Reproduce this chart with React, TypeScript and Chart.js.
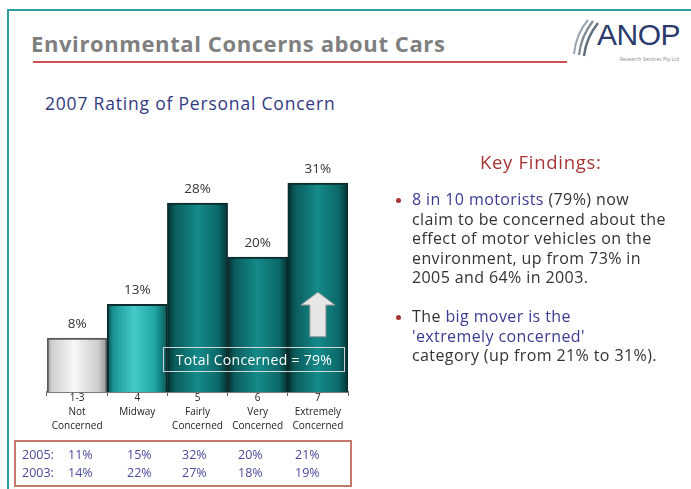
import React, { useEffect, useRef } from "react";
import { Chart, registerables } from "chart.js";

Chart.register(...registerables);

const categories: string[][] = [
  ["1-3", "Not", "Concerned"],
  ["4", "Midway"],
  ["5", "Fairly", "Concerned"],
  ["6", "Very", "Concerned"],
  ["7", "Extremely", "Concerned"],
];
const values2007 = [8, 13, 28, 20, 31];
const values2005 = [11, 15, 32, 20, 21];
const values2003 = [14, 22, 27, 18, 19];
const yMax = 35;

const FONT = "'Open Sans', 'DejaVu Sans', sans-serif";

const gradStops: Array<Array<[number, string]>> = [
  [[0, "#8e8e8e"], [0.08, "#cfcfcf"], [0.45, "#f8f8f8"], [0.85, "#cdcdcd"], [1, "#939393"]],
  [[0, "#0a4d4d"], [0.1, "#1a9494"], [0.45, "#45caca"], [0.8, "#1fa3a3"], [1, "#0a5555"]],
  [[0, "#042e2e"], [0.12, "#0a5c5c"], [0.5, "#158a8a"], [0.85, "#0c6868"], [1, "#043232"]],
];

const valueLabelPlugin = {
  id: "valueLabels",
  afterDatasetsDraw(chart: any) {
    const ctx = chart.ctx;
    const meta = chart.getDatasetMeta(0);
    ctx.save();
    ctx.font = `13.5px ${FONT}`;
    ctx.fillStyle = "#333333";
    ctx.textAlign = "center";
    ctx.textBaseline = "middle";
    meta.data.forEach((bar: any, i: number) => {
      ctx.fillText(`${values2007[i]}%`, bar.x, bar.y - 14);
    });
    // arrow in last bar
    const last = meta.data[meta.data.length - 1];
    const ys = chart.scales.y;
    const cx = last.x;
    const top = ys.getPixelForValue(14.8);
    const headB = ys.getPixelForValue(12.9);
    const bottom = ys.getPixelForValue(8.2);
    ctx.beginPath();
    ctx.moveTo(cx, top);
    ctx.lineTo(cx + 17, headB);
    ctx.lineTo(cx + 8, headB);
    ctx.lineTo(cx + 8, bottom);
    ctx.lineTo(cx - 8, bottom);
    ctx.lineTo(cx - 8, headB);
    ctx.lineTo(cx - 17, headB);
    ctx.closePath();
    ctx.fillStyle = "#e6e6e6";
    ctx.fill();
    ctx.strokeStyle = "#9a9a9a";
    ctx.lineWidth = 1;
    ctx.stroke();
    ctx.restore();
  },
};

function ChartView() {
  const ref = useRef<HTMLCanvasElement>(null);
  useEffect(() => {
    if (!ref.current) return;
    const chart = new Chart(ref.current, {
      type: "bar",
      data: {
        labels: categories,
        datasets: [
          {
            data: values2007,
            backgroundColor: (c: any) => {
              const ch = c.chart;
              const i = c.dataIndex ?? 0;
              const stops = gradStops[Math.min(i, 2)];
              if (!ch.chartArea) return stops[2][1];
              const xs = ch.scales.x;
              const cx = xs.getPixelForValue(i);
              const half = xs.width / (2 * values2007.length);
              const g = ch.ctx.createLinearGradient(cx - half, 0, cx + half, 0);
              stops.forEach(([o, col]) => g.addColorStop(o, col));
              return g;
            },
            borderColor: (c: any) => ((c.dataIndex ?? 0) === 0 ? "#5a5a5a" : "#0a2c2c"),
            borderWidth: 2,
            borderSkipped: "start",
            categoryPercentage: 1,
            barPercentage: 1,
          },
        ],
      },
      options: {
        responsive: false,
        animation: false,
        events: [],
        layout: { padding: { left: 47, right: 343, top: 156, bottom: 47 } },
        plugins: { legend: { display: false }, tooltip: { enabled: false } },
        scales: {
          y: { display: false, min: 0, max: yMax },
          x: {
            afterFit: (s: any) => {
              s.height = 50;
            },
            grid: {
              display: true,
              drawOnChartArea: false,
              drawTicks: true,
              tickLength: 4,
              color: "#666666",
              offset: true,
            },
            border: { display: true, color: "#7a7a7a", width: 2 },
            ticks: {
              padding: -5,
              maxRotation: 0,
              autoSkip: false,
              color: "#222222",
              font: { family: FONT, size: 10, lineHeight: 1.4 },
            },
          },
        },
      },
      plugins: [valueLabelPlugin],
    } as any);
    return () => chart.destroy();
  }, []);
  return (
    <canvas
      ref={ref}
      width={691}
      height={489}
      style={{ position: "absolute", left: 0, top: 0, width: 691, height: 489 }}
    />
  );
}

const tableCols = [68, 127, 182, 238, 295];

export default function App() {
  const abs = (s: React.CSSProperties): React.CSSProperties => ({ position: "absolute", ...s });
  const blue = "#3b3b92";
  const dark = "#333333";
  return (
    <div style={abs({ left: 0, top: 0, width: 691, height: 489, background: "#ffffff", overflow: "hidden", fontFamily: FONT })}>
      {/* frame */}
      <div style={abs({ left: 7, top: 9, width: 684, height: 2, background: "#2f9ca0" })} />
      <div style={abs({ left: 7, top: 9, width: 2, height: 480, background: "#2f9ca0" })} />
      {/* title */}
      <div style={abs({ left: 31, top: 29, fontSize: 22, fontWeight: 700, color: "#7f7f7f", whiteSpace: "nowrap", lineHeight: "28px", letterSpacing: 0.6 })}>
        Environmental Concerns about Cars
      </div>
      <div style={abs({ left: 33, top: 61, width: 534, height: 2, background: "#c9504e" })} />
      {/* logo */}
      <svg style={abs({ left: 562, top: 12, width: 40, height: 50 })} viewBox="0 0 40 50">
        <path d="M12 42 Q14 22 26 8" stroke="#9aa4ae" strokeWidth="2" fill="none" />
        <path d="M17 43 Q19 24 31 9" stroke="#7d8894" strokeWidth="2.2" fill="none" />
        <path d="M22 44 Q24 26 36 11" stroke="#5f6c7a" strokeWidth="2.4" fill="none" />
      </svg>
      <div style={abs({ left: 597, top: 18, fontSize: 30, color: "#2b3a6c", fontFamily: "'Liberation Sans', Arial, sans-serif", lineHeight: "34px", letterSpacing: -0.5 })}>
        ANOP
      </div>
      <div style={abs({ left: 620, top: 56, fontSize: 5, color: "#888", whiteSpace: "nowrap", lineHeight: "6px" })}>
        Research Services Pty Ltd
      </div>
      {/* subtitle */}
      <div style={abs({ left: 45, top: 92, fontSize: 17.5, color: "#333a80", whiteSpace: "nowrap", lineHeight: "22px", letterSpacing: 0.8 })}>
        2007 Rating of Personal Concern
      </div>

      <ChartView />

      {/* total concerned box */}
      <div style={abs({ left: 163, top: 347, width: 182, height: 25, boxSizing: "border-box", border: "1px solid rgba(235,235,235,0.85)", color: "#ffffff", fontSize: 14, lineHeight: "23px", textAlign: "center", whiteSpace: "nowrap", zIndex: 2, letterSpacing: 0.3 })}>
        Total Concerned = 79%
      </div>

      {/* table */}
      <div style={abs({ left: 14, top: 440, width: 338, height: 47, boxSizing: "border-box", border: "2px solid #c47a6a", zIndex: 2 })} />
      {[["2005:", values2005], ["2003:", values2003]].map(([lab, vals]: any, r: number) => (
        <React.Fragment key={r}>
          <div style={abs({ left: 22, top: 447 + r * 18, fontSize: 12.5, color: "#4a4a9c", lineHeight: "16px", zIndex: 3 })}>{lab}</div>
          {(vals as number[]).map((v, i) => (
            <div key={i} style={abs({ left: tableCols[i], top: 447 + r * 18, fontSize: 12.5, color: "#4a4a9c", lineHeight: "16px", zIndex: 3 })}>{v}%</div>
          ))}
        </React.Fragment>
      ))}

      {/* key findings */}
      <div style={abs({ left: 480, top: 150, fontSize: 18.5, color: "#a83535", whiteSpace: "nowrap", lineHeight: "24px", letterSpacing: 0.7 })}>Key Findings:</div>
      <div style={abs({ left: 396, top: 198, width: 5, height: 5, borderRadius: 3, background: "#a83535" })} />
      <div style={abs({ left: 412, top: 190, fontSize: 16, lineHeight: "19.5px", color: dark, whiteSpace: "nowrap", letterSpacing: 0.4 })}>
        <span style={{ color: blue }}>8 in 10 motorists</span> (79%) now<br />
        claim to be concerned about the<br />
        effect of motor vehicles on the<br />
        environment, up from 73% in<br />
        2005 and 64% in 2003.
      </div>
      <div style={abs({ left: 396, top: 315, width: 5, height: 5, borderRadius: 3, background: "#a83535" })} />
      <div style={abs({ left: 412, top: 307, fontSize: 16, lineHeight: "19.5px", color: dark, whiteSpace: "nowrap", letterSpacing: 0.4 })}>
        The <span style={{ color: blue }}>big mover is the</span><br />
        <span style={{ color: blue }}>'extremely concerned'</span><br />
        category (up from 21% to 31%).
      </div>
    </div>
  );
}
